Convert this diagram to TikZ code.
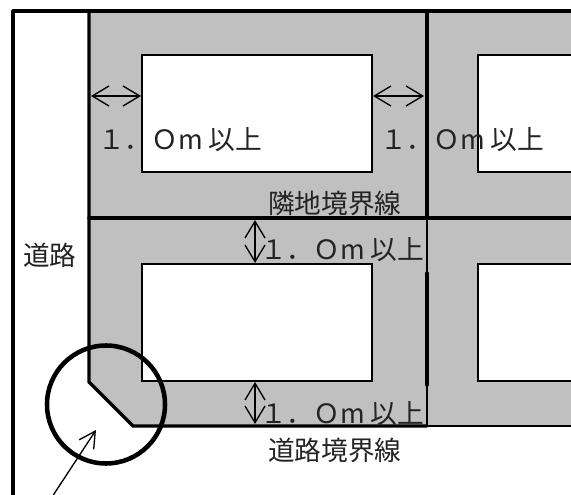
\documentclass[tikz,border=0pt]{standalone}
\usepackage{fontspec}
\setmainfont{Noto Sans CJK JP}
\usetikzlibrary{arrows.meta}
\definecolor{yardgray}{RGB}{192,192,192}
\definecolor{labelink}{RGB}{35,35,35}
\tikzset{
  heavy/.style={line width=2.6pt,line cap=round,line join=round},
  medium/.style={line width=1.4pt},
  house/.style={draw=black,fill=white,line width=1.1pt},
  gap/.style={line width=1pt,{Straight Barb[length=12.5pt,width=15pt,line width=1pt]}-{Straight Barb[length=12.5pt,width=15pt,line width=1pt]}},
  pointer/.style={line width=1pt,-{Straight Barb[length=12pt,width=13pt,line width=1pt]}},
  ring/.style={draw=black,line width=3.4pt},
  lab/.style={inner sep=0pt,text=labelink,font=\fontsize{20}{20}\selectfont,anchor=base west},
}
\begin{document}
\begin{tikzpicture}[x=0.75pt,y=-0.75pt]
\clip (0,0) rectangle (571,495);
\fill[white] (0,0) rectangle (571,495);
% yard
\fill[yardgray] (89,11) -- (575,11) -- (575,426) -- (133,426) -- (89,382) -- cycle;
% houses
\draw[house] (142,55) rectangle (372,172);
\draw[house] (478,55) rectangle (580,172);
\draw[house] (142,264) rectangle (372,381);
\draw[house] (478,264) rectangle (580,381);
% coordinates
\coordinate (roadTL) at (13,11);
\coordinate (roadBL) at (13,500);
\coordinate (lotTL) at (89,11);
\coordinate (lotCh) at (89,382);
\coordinate (lotCb) at (133,426);
\coordinate (divT) at (427,11);
\coordinate (divM) at (427,218);
\coordinate (divA) at (427,273);
\coordinate (divB) at (427,385);
\coordinate (divC) at (427,426);
\coordinate (topR) at (575,11);
\coordinate (midL) at (89,218);
\coordinate (midR) at (575,218);
\coordinate (botR) at (575,426);
% boundary lines
\draw[heavy] (roadBL) -- (roadTL) -- (topR);
\draw[heavy] (lotTL) -- (lotCh) -- (lotCb) -- (divC);
\draw[medium] (divC) -- (botR);
\draw[heavy] (midL) -- (midR);
\draw[heavy] (divT) -- (divM);
\draw[medium] (divM) -- (divA);
\draw[heavy] (divA) -- (divB);
\draw[medium] (divB) -- (divC);
% dimension arrows
\coordinate (a1) at (91,96); \coordinate (a2) at (141,96);
\coordinate (b1) at (373,96); \coordinate (b2) at (424,96);
\coordinate (c1) at (255,220); \coordinate (c2) at (255,263);
\coordinate (d1) at (255,382); \coordinate (d2) at (255,424);
\draw[gap] (a1) -- (a2);
\draw[gap] (b1) -- (b2);
\draw[gap] (c1) -- (c2);
\draw[gap] (d1) -- (d2);
% corner ring and pointer
\node[ring,circle,minimum size=88.5pt,inner sep=0pt] (cornerring) at (106,404.5) {};
\coordinate (ptrS) at (52,497);
\coordinate (ptrE) at (96,430);
\draw[pointer] (ptrS) -- (ptrE);
% labels
\node[lab] (t1) at (98,150) {１．Ｏm 以上};
\node[lab] (t2) at (380,150) {１．Ｏm 以上};
\node[lab] (t3) at (260,260) {１．Ｏm 以上};
\node[lab] (t4) at (260,423) {１．Ｏm 以上};
\node[lab] (t5) at (268,214) {隣地境界線};
\node[lab] (t6) at (268,460) {道路境界線};
\node[lab] (t7) at (23,266) {道路};
\end{tikzpicture}
\end{document}
